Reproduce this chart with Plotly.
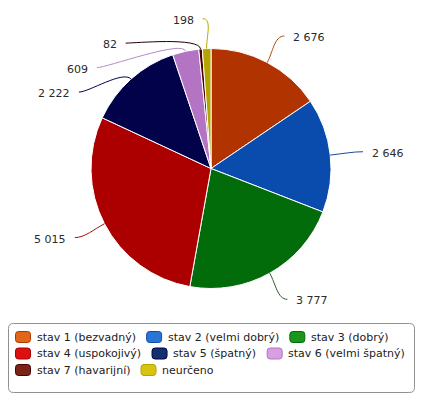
import math
import plotly.graph_objects as go

# ---- data ----
categories = ["stav 1 (bezvadný)", "stav 2 (velmi dobrý)", "stav 3 (dobrý)",
              "stav 4 (uspokojivý)", "stav 5 (špatný)", "stav 6 (velmi špatný)",
              "stav 7 (havarijní)", "neurčeno"]
values = [2676, 2646, 3777, 5015, 2222, 609, 82, 198]

# ---- styles ----
slice_colors = ["#B03300", "#0A4CAD", "#026B0A", "#AC0000", "#02024A", "#B474C4", "#4A0000", "#B4A400"]
legend_colors = ["#E0661A", "#2A74D4", "#1A961A", "#DD1010", "#12306E", "#D6A0E0", "#7A2418", "#D8C410"]
conn_colors = ["#B04A10", "#1A4C9A", "#2A5A2A", "#A01010", "#02024A", "#B48CC8", "#200000", "#B8A800"]

W, H = 424, 394
CX, CY, R = 211, 168.5, 120
DIST = 30
FONT = "DejaVu Sans"


def px(x):
    return x / W


def py(y):
    return 1 - y / H


def fmt(v):
    return f"{v:,}".replace(",", " ")


fig = go.Figure()
fig.add_trace(go.Pie(
    labels=categories, values=values, sort=False, direction="clockwise", rotation=0,
    marker=dict(colors=slice_colors, line=dict(color="white", width=1)),
    textinfo="none", hoverinfo="label+value", showlegend=False,
    domain=dict(x=[px(CX - R), px(CX + R)], y=[py(CY + R), py(CY - R)]),
))

shapes = []
annotations = []

# ---- data labels with connectors ----
total = sum(values)
cum = 0
info = []
for i, v in enumerate(values):
    mid = (cum + v / 2) / total * 2 * math.pi
    cum += v
    right = math.sin(mid) >= 0
    ny = CY - (R + DIST) * math.cos(mid)
    info.append(dict(i=i, th=mid, right=right, y=ny))

SPACING = 24.5
for side in (True, False):
    items = sorted([d for d in info if d["right"] == side], key=lambda d: d["y"])
    prev = None
    for d in items:
        if prev is not None and d["y"] < prev + SPACING:
            d["y"] = prev + SPACING
        prev = d["y"]

for d in info:
    i, th, y = d["i"], d["th"], d["y"]
    sgn = 1 if d["right"] else -1
    dx = math.sqrt(max(0.0, (R + DIST) ** 2 - (y - CY) ** 2))
    xc = CX + sgn * (dx + 3)
    ex, ey = CX + R * math.sin(th), CY - R * math.cos(th)
    bx, by = CX + (R + 12) * math.sin(th), CY - (R + 12) * math.cos(th)
    c1x = xc - sgn * 10
    path = (f"M {px(xc)},{py(y)} C {px(c1x)},{py(y)} {px(bx)},{py(by)} {px(ex)},{py(ey)}")
    shapes.append(dict(type="path", path=path, xref="paper", yref="paper",
                       line=dict(color=conn_colors[i], width=1), layer="above"))
    annotations.append(dict(
        x=px(xc + sgn * 8), y=py(y + 1.5), xref="paper", yref="paper",
        text=fmt(values[i]), showarrow=False, borderpad=0,
        xanchor="left" if d["right"] else "right", yanchor="middle",
        font=dict(family=FONT, size=11, color="#2a2a2a"),
    ))

# ---- legend (manual, flow layout) ----
CHAR_W = {" ": 318, "(": 390, ")": 390, "a": 613, "b": 635, "c": 550, "d": 635, "e": 615,
          "f": 352, "g": 635, "h": 634, "i": 278, "j": 278, "k": 579, "l": 278, "m": 974,
          "n": 634, "o": 612, "p": 635, "r": 411, "s": 521, "t": 392, "u": 634, "v": 592,
          "y": 592, "z": 525, "ý": 592, "č": 550, "š": 521, "í": 278}
LEG_FS = 11


def text_w(s):
    return sum(CHAR_W.get(c, 636) for c in s) / 1000 * LEG_FS


BOX_L, BOX_R, BOX_T, BOX_B = 8.5, 414.5, 323.5, 392.5
shapes.append(dict(
    type="path", xref="paper", yref="paper",
    path=(f"M {px(BOX_L+5)},{py(BOX_T)} L {px(BOX_R-5)},{py(BOX_T)} "
          f"Q {px(BOX_R)},{py(BOX_T)} {px(BOX_R)},{py(BOX_T+5)} "
          f"L {px(BOX_R)},{py(BOX_B-5)} Q {px(BOX_R)},{py(BOX_B)} {px(BOX_R-5)},{py(BOX_B)} "
          f"L {px(BOX_L+5)},{py(BOX_B)} Q {px(BOX_L)},{py(BOX_B)} {px(BOX_L)},{py(BOX_B-5)} "
          f"L {px(BOX_L)},{py(BOX_T+5)} Q {px(BOX_L)},{py(BOX_T)} {px(BOX_L+5)},{py(BOX_T)} Z"),
    line=dict(color="#909090", width=1), fillcolor="rgba(0,0,0,0)"))

SYM_W, SYM_H, SYM_PAD, ITEM_GAP = 15, 11, 6, 11
ROW_H = 16.5
x0, y0 = 15.5, 337
x, row = x0, 0
for i, lab in enumerate(categories):
    w = SYM_W + SYM_PAD + text_w(lab)
    if x > x0 and x + w > BOX_R - 4:
        x = x0
        row += 1
    yc = y0 + row * ROW_H
    l, r_, t, b = x, x + SYM_W, yc - SYM_H / 2, yc + SYM_H / 2
    rr = 3
    shapes.append(dict(
        type="path", xref="paper", yref="paper",
        path=(f"M {px(l+rr)},{py(t)} L {px(r_-rr)},{py(t)} Q {px(r_)},{py(t)} {px(r_)},{py(t+rr)} "
              f"L {px(r_)},{py(b-rr)} Q {px(r_)},{py(b)} {px(r_-rr)},{py(b)} "
              f"L {px(l+rr)},{py(b)} Q {px(l)},{py(b)} {px(l)},{py(b-rr)} "
              f"L {px(l)},{py(t+rr)} Q {px(l)},{py(t)} {px(l+rr)},{py(t)} Z"),
        line=dict(color=slice_colors[i], width=1), fillcolor=legend_colors[i]))
    annotations.append(dict(
        x=px(x + SYM_W + SYM_PAD - 1), y=py(yc), xref="paper", yref="paper",
        text=lab, showarrow=False, borderpad=0, xanchor="left", yanchor="middle",
        font=dict(family=FONT, size=LEG_FS, color="#222222"),
    ))
    x += w + ITEM_GAP

fig.update_layout(
    width=W, height=H, margin=dict(l=0, r=0, t=0, b=0),
    paper_bgcolor="white", plot_bgcolor="white",
    shapes=shapes, annotations=annotations, showlegend=False,
)

fig.write_html("out.html", config={"displayModeBar": False},
               post_script="document.body.style.margin='0';document.body.style.overflow='hidden';")
